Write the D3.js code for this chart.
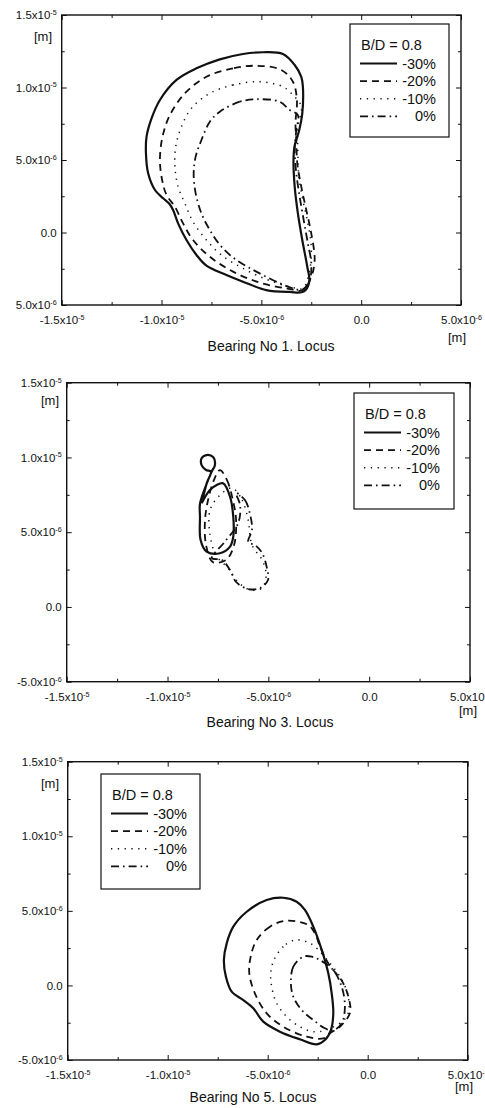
<!DOCTYPE html>
<html><head><meta charset="utf-8">
<script src="https://cdn.jsdelivr.net/npm/d3@7"></script>
<style>
body{margin:0;background:#fff}
svg{display:block}
text{font-family:"Liberation Sans",Arial,sans-serif;fill:#111}
</style>
</head><body>
<svg id="c" width="485" height="1108"></svg>
<script>
// ---- data (values in micrometres, i.e. x10^-6 m) ----
const seriesNames = ["-30%", "-20%", "-10%", "0%"];
const legendTitle = "B/D = 0.8";
const titles = ["Bearing No 1. Locus", "Bearing No 3. Locus", "Bearing No 5. Locus"];
const xTickValues = [-15, -10, -5, 0, 5];
const xTickLabels = [["-1.5x10","-5"],["-1.0x10","-5"],["-5.0x10","-6"],["0.0",""],["5.0x10","-6"]];
const yTickValues = [-5, 0, 5, 10, 15];
const yTickLabelsB1 = [["5.0x10","-6"],["0.0",""],["5.0x10","-6"],["1.0x10","-5"],["1.5x10","-5"]];
const yTickLabels = [["-5.0x10","-6"],["0.0",""],["5.0x10","-6"],["1.0x10","-5"],["1.5x10","-5"]];
const xMinor = [-12.5, -7.5, -2.5, 2.5];
const yMinor = [-2.5, 2.5, 7.5, 12.5];
const unitLabel = "[m]";

// Bearing No 1
const b1_m30 = [[-2.88,-4.08],[-3.59,-4.1],[-4.75,-3.97],[-5.92,-3.39],[-6.75,-2.93],[-7.75,-2.29],[-8.25,-1.55],[-8.75,-0.52],[-9.17,0.63],[-9.42,1.55],[-9.6,1.97],[-9.92,2.36],[-10.33,2.93],[-10.67,4.08],[-10.78,5.46],[-10.75,6.61],[-10.5,7.87],[-10.08,9.14],[-9.25,10.52],[-8.25,11.32],[-7.08,11.94],[-5.92,12.31],[-4.92,12.43],[-3.92,12.31],[-3.33,11.55],[-3.0,10.74],[-2.92,10.06],[-2.95,8.22],[-3.1,7.07],[-3.33,6.0],[-3.39,5.0],[-3.33,3.16],[-3.17,1.32],[-2.95,-0.52],[-2.7,-2.36],[-2.6,-3.4]];
const b1_m20 = [[-5.25,11.5],[-6.42,11.32],[-7.75,10.74],[-8.83,9.6],[-9.58,8.1],[-9.95,6.61],[-10.08,5.0],[-9.97,3.62],[-9.75,2.59],[-9.33,1.78],[-8.92,0.63],[-8.42,-0.52],[-7.58,-1.67],[-6.42,-2.7],[-5.08,-3.46],[-3.75,-3.85],[-2.92,-3.97],[-2.5,-3.05],[-2.33,-1.9],[-2.5,-0.06],[-2.75,1.55],[-3.0,3.16],[-3.2,4.77],[-3.25,6.38],[-3.29,7.53],[-3.22,9.14],[-3.42,10.4],[-4.0,11.21]];
const b1_m10 = [[-5.08,10.4],[-6.42,10.17],[-7.58,9.6],[-8.5,8.57],[-9.0,7.3],[-9.29,5.92],[-9.33,4.54],[-9.17,3.16],[-8.83,2.01],[-8.42,0.74],[-7.75,-0.52],[-7.0,-1.55],[-5.92,-2.47],[-4.75,-3.23],[-3.58,-3.74],[-2.92,-3.85],[-2.58,-2.59],[-2.5,-0.98],[-2.67,0.63],[-2.92,2.24],[-3.12,3.85],[-3.17,5.46],[-3.17,7.3],[-3.0,8.68],[-3.42,9.48],[-3.92,10.06]];
const b1_0 = [[-5.25,9.19],[-6.08,9.02],[-7.08,8.33],[-7.58,7.64],[-8.0,6.38],[-8.29,5.23],[-8.39,4.08],[-8.29,2.7],[-8.0,1.32],[-7.58,0.17],[-7.0,-0.98],[-6.25,-1.9],[-5.25,-2.7],[-4.08,-3.5],[-3.42,-3.85],[-2.95,-3.95],[-2.58,-3.28],[-2.5,-2.13],[-2.67,-0.75],[-2.88,0.86],[-3.08,2.47],[-3.25,4.08],[-3.33,5.69],[-3.25,7.07],[-3.17,8.1],[-3.58,8.45],[-4.08,9.02]];

// Bearing No 3
const b3_m30 = [[-8.31,6.93],[-8.05,8.3],[-7.85,9.05],[-8.09,9.16],[-8.31,9.49],[-8.31,9.94],[-8.06,10.16],[-7.73,10.01],[-7.65,9.49],[-7.81,9.05],[-8.1,8.1],[-8.39,6.9],[-8.39,6.04],[-8.36,4.48],[-8.06,3.7],[-7.4,3.59],[-6.9,4.03],[-6.74,4.7],[-6.74,6.04],[-6.9,7.37],[-7.24,8.27],[-7.56,8.16],[-7.9,7.82],[-8.31,6.93]];
const b3_m20 = [[-7.4,9.15],[-7.05,8.48],[-6.76,7.15],[-6.6,5.81],[-6.7,4.14],[-7.1,3.14],[-7.75,3.0],[-8.09,4.14],[-8.14,5.81],[-7.99,7.15],[-7.7,8.48]];
const b3_m10 = [[-6.8,7.96],[-6.3,7.15],[-6.0,5.81],[-5.81,4.14],[-5.31,3.14],[-5.11,2.14],[-5.31,1.27],[-5.9,1.14],[-6.5,1.67],[-7.0,2.6],[-7.6,3.47],[-7.89,4.81],[-7.89,6.48],[-7.4,7.48]];
const b3_0 = [[-6.6,7.62],[-6.16,7.15],[-5.9,6.15],[-5.81,5.15],[-6.0,4.34],[-5.66,4.14],[-5.31,3.61],[-5.07,2.6],[-5.02,1.8],[-5.4,1.27],[-6.0,1.2],[-6.6,1.67],[-6.9,2.47],[-7.3,3.14],[-7.8,3.27],[-7.2,4.3],[-6.5,5.6],[-6.4,6.8]];

// Bearing No 5
const b5_m30 = [[-4.22,5.88],[-5.05,5.73],[-6.05,4.94],[-6.72,3.94],[-7.05,2.82],[-7.19,1.7],[-7.09,0.59],[-6.8,-0.42],[-6.22,-0.98],[-5.72,-1.53],[-5.22,-2.43],[-4.39,-3.1],[-3.39,-3.61],[-2.55,-3.95],[-2.14,-3.66],[-1.84,-2.99],[-1.72,-1.87],[-1.8,-0.53],[-1.97,0.81],[-2.3,2.38],[-2.72,3.94],[-3.14,5.06],[-3.55,5.61]];
const b5_m20 = [[-4.05,4.34],[-4.89,3.94],[-5.55,3.05],[-5.85,1.93],[-5.92,0.81],[-5.64,-0.53],[-5.05,-1.87],[-4.22,-2.77],[-3.05,-3.44],[-2.22,-3.55],[-1.89,-3.21],[-1.39,-2.77],[-0.89,-1.87],[-0.89,-1.2],[-1.22,0.14],[-1.97,1.48],[-2.38,2.6],[-2.64,3.49],[-2.97,4.05]];
const b5_m10 = [[-3.64,3.05],[-4.22,2.6],[-4.69,1.7],[-4.85,0.81],[-4.8,-0.09],[-4.55,-1.2],[-4.05,-2.1],[-3.39,-2.77],[-2.72,-3.1],[-2.1,-3.0],[-1.05,-2.1],[-0.97,-0.76],[-1.39,0.59],[-1.89,1.48],[-2.64,2.6],[-3.05,2.93]];
const b5_0 = [[-3.22,1.93],[-3.72,1.26],[-3.84,0.14],[-3.72,-0.76],[-3.3,-1.65],[-2.72,-2.32],[-2.14,-2.87],[-1.7,-3.0],[-1.3,-2.54],[-1.14,-1.43],[-1.3,-0.09],[-1.72,1.03],[-2.39,1.7],[-2.8,1.93]];

// ---- layout ----
const styles = [
  {w: 2.2, dash: null},
  {w: 1.8, dash: "7,5"},
  {w: 1.5, dash: "1.3,5.5"},
  {w: 1.8, dash: "8,4,1.6,4"}
];
const panels = [
  {L:61.7, R:461, T:15, B:305, series:[b1_m30,b1_m20,b1_m10,b1_0], closed:[true,true,true,true],
   yLab:yTickLabelsB1, title:titles[0], titleX:271, titleY:351, unitX:[457,342], unitY:[43,41], legend:[350,24,99,113]},
  {L:66.7, R:470, T:382.7, B:681.7, series:[b3_m30,b3_m20,b3_m10,b3_0], closed:[false,true,true,true],
   yLab:yTickLabels, title:titles[1], titleX:270, titleY:727, unitX:[468,715], unitY:[50,405], legend:[354,393,100,116]},
  {L:67.7, R:467.7, T:761.7, B:1060, series:[b5_m30,b5_m20,b5_m10,b5_0], closed:[true,true,true,true],
   yLab:yTickLabels, title:titles[2], titleX:253, titleY:1102, unitX:[464,1091], unitY:[50,788], legend:[101,774,99,115]}
];

const svg = d3.select("#c");
const FONT = '"Liberation Sans",Arial,sans-serif';

function labelTicks(sel, labels) {
  sel.selectAll(".tick text").each(function(d, i) {
    const t = d3.select(this);
    t.text(labels[i][0]);
    if (labels[i][1]) t.append("tspan").attr("dy", "-0.6em").attr("font-size", "0.62em").text(labels[i][1]);
  });
}
function styleAxis(g) {
  g.attr("font-size", 11.5).attr("font-family", FONT);
  g.select(".domain").remove();
  g.selectAll(".tick line").attr("stroke", "#111").attr("stroke-width", 1);
  g.selectAll(".tick text").attr("fill", "#111");
}

panels.forEach(p => {
  const x = d3.scaleLinear().domain([-15, 5]).range([p.L, p.R]);
  const y = d3.scaleLinear().domain([-5, 15]).range([p.B, p.T]);
  const g = svg.append("g");

  // major + minor ticks, inward on all four sides
  const gb = g.append("g").attr("transform", `translate(0,${p.B})`)
    .call(d3.axisBottom(x).tickValues(xTickValues).tickSizeInner(-5).tickSizeOuter(0).tickPadding(11).tickFormat(""));
  styleAxis(gb); labelTicks(gb, xTickLabels);
  const gl = g.append("g").attr("transform", `translate(${p.L},0)`)
    .call(d3.axisLeft(y).tickValues(yTickValues).tickSizeInner(-5).tickSizeOuter(0).tickPadding(5).tickFormat(""));
  styleAxis(gl); labelTicks(gl, p.yLab);
  const others = [
    [d3.axisBottom(x).tickValues(xMinor).tickSizeInner(-3), `translate(0,${p.B})`],
    [d3.axisTop(x).tickValues(xTickValues).tickSizeInner(-5), `translate(0,${p.T})`],
    [d3.axisTop(x).tickValues(xMinor).tickSizeInner(-3), `translate(0,${p.T})`],
    [d3.axisLeft(y).tickValues(yMinor).tickSizeInner(-3), `translate(${p.L},0)`],
    [d3.axisRight(y).tickValues(yTickValues).tickSizeInner(-5), `translate(${p.R},0)`],
    [d3.axisRight(y).tickValues(yMinor).tickSizeInner(-3), `translate(${p.R},0)`]
  ];
  others.forEach(([ax, tr]) => {
    const a = g.append("g").attr("transform", tr).call(ax.tickSizeOuter(0).tickFormat(""));
    styleAxis(a);
  });

  // frame
  g.append("rect").attr("x", p.L).attr("y", p.T).attr("width", p.R - p.L).attr("height", p.B - p.T)
    .attr("fill", "none").attr("stroke", "#111").attr("stroke-width", 1.4);

  // loci
  p.series.forEach((s, i) => {
    const line = d3.line().x(d => x(d[0])).y(d => y(d[1]))
      .curve(p.closed[i] ? d3.curveCatmullRomClosed.alpha(0.5) : d3.curveCatmullRom.alpha(0.5));
    g.append("path").attr("d", line(s)).attr("fill", "none").attr("stroke", "#111")
      .attr("stroke-width", styles[i].w).attr("stroke-dasharray", styles[i].dash)
      .attr("stroke-linejoin", "round");
  });

  // units and title
  g.append("text").attr("x", p.unitY[0]).attr("y", p.unitY[1]).attr("text-anchor", "middle")
    .attr("font-size", 13).text(unitLabel);
  g.append("text").attr("x", p.unitX[0]).attr("y", p.unitX[1]).attr("text-anchor", "middle")
    .attr("font-size", 13).text(unitLabel);
  g.append("text").attr("x", p.titleX).attr("y", p.titleY).attr("text-anchor", "middle")
    .attr("font-size", 14).text(p.title);

  // legend
  const [lx, ly, lw, lh] = p.legend;
  const lg = g.append("g");
  lg.append("rect").attr("x", lx).attr("y", ly).attr("width", lw).attr("height", lh)
    .attr("fill", "#fff").attr("stroke", "#111").attr("stroke-width", 1.2);
  lg.append("text").attr("x", lx + 11).attr("y", ly + 26).attr("font-size", 14.5).text(legendTitle);
  seriesNames.forEach((name, i) => {
    const yy = ly + 39.5 + i * 17.6;
    lg.append("line").attr("x1", lx + 10).attr("x2", lx + 47).attr("y1", yy).attr("y2", yy)
      .attr("stroke", "#111").attr("stroke-width", styles[i].w).attr("stroke-dasharray", styles[i].dash);
    lg.append("text").attr("x", lx + 86).attr("y", yy + 5).attr("text-anchor", "end")
      .attr("font-size", 14.5).text(name);
  });
});
</script>
</body></html>
